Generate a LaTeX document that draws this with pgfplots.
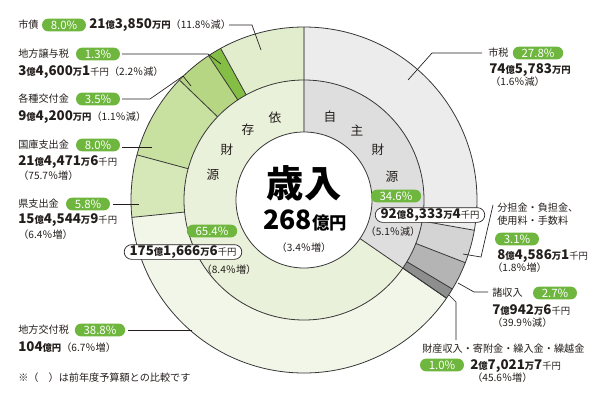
\documentclass[border=0pt]{standalone}
\usepackage{pgfplots}
\pgfplotsset{compat=1.18}
\usepackage{pgfplotstable}
\usepackage{fontspec}
\setmainfont{Noto Sans CJK JP}

% outer ring, clockwise from the top
\pgfplotstableread{
pct
27.8
3.1
2.7
1.0
38.8
5.8
8.0
3.5
1.3
8.0
}\outertab
% inner ring
\pgfplotstableread{
pct
34.6
65.4
}\innertab

\definecolor{oc0}{RGB}{236,236,236}
\definecolor{oc1}{RGB}{212,212,212}
\definecolor{oc2}{RGB}{180,180,180}
\definecolor{oc3}{RGB}{142,142,142}
\definecolor{oc4}{RGB}{242,246,232}
\definecolor{oc5}{RGB}{214,231,184}
\definecolor{oc6}{RGB}{200,224,160}
\definecolor{oc7}{RGB}{183,214,132}
\definecolor{oc8}{RGB}{132,190,68}
\definecolor{oc9}{RGB}{226,237,206}
\definecolor{ic0}{RGB}{222,222,222}
\definecolor{ic1}{RGB}{234,241,218}
\definecolor{badgegreen}{RGB}{110,182,62}
\definecolor{txt}{RGB}{35,30,28}
\definecolor{ringline}{RGB}{55,55,55}

\newcommand\computeangles[2]{%
  \gdef\cumval{0}%
  \pgfplotstablegetrowsof{#1}%
  \pgfmathtruncatemacro\nrws{\pgfplotsretval-1}%
  \foreach \k in {0,...,\nrws}{%
    \pgfplotstablegetelem{\k}{pct}\of#1%
    \let\vval\pgfplotsretval
    \pgfmathsetmacro\angS{90-3.6*\cumval}%
    \pgfmathsetmacro\angC{\cumval+\vval}%
    \pgfmathsetmacro\angE{90-3.6*\angC}%
    \expandafter\xdef\csname #2S\k\endcsname{\angS}%
    \expandafter\xdef\csname #2E\k\endcsname{\angE}%
    \xdef\cumval{\angC}%
  }%
}
\def\Ro{129.75pt}
\def\Rm{90pt}
\def\Ri{51pt}
\newcommand\sector[4]{\edef\tmp{\noexpand\fill[#4] (axis cs:304,200) -- ++(#1:#3) arc[start angle=#1,end angle=#2,radius=#3] -- cycle;}\tmp}
\newcommand\bline[4]{\edef\tmp{\noexpand\draw[#4] (axis cs:304,200) ++(#1:#2) -- ++(#1:#3);}\tmp}

\newcommand\N[1]{{\fontsize{10}{12}\selectfont\bfseries #1}}
\newcommand\U[1]{{\fontsize{7}{8}\selectfont\bfseries #1}}
\newcommand\K[1]{{\fontsize{7}{8}\selectfont #1}}
\newcommand\Pct[1]{{\fontsize{7.6}{8}\selectfont #1}}
\newcommand\T[3]{\node[anchor=west,inner sep=0,text=txt,font=\fontsize{7.6}{9}\selectfont] at (axis cs:#1,#2) {#3};}
\newcommand\B[3]{\node[fill=badgegreen,text=white,rounded corners=4.5pt,inner xsep=6.5pt,inner ysep=0pt,minimum height=9.5pt,font=\fontsize{8.6}{9}\selectfont] at (axis cs:#1,#2) {#3};}
\tikzset{lead/.style={draw=txt,line width=0.5pt}}

\begin{document}
\begin{tikzpicture}
\computeangles{\outertab}{o}
\computeangles{\innertab}{i}
\begin{axis}[x=0.75pt,y=0.75pt,xmin=0,xmax=600,ymin=0,ymax=401,y dir=reverse,hide axis,clip=false]
\path (axis cs:0,0) rectangle (axis cs:600,401);
% outer ring
\pgfplotsinvokeforeach{0,...,9}{\sector{\csname oS#1\endcsname}{\csname oE#1\endcsname}{\Ro}{oc#1}}
% inner ring
\pgfplotsinvokeforeach{0,1}{\sector{\csname iS#1\endcsname}{\csname iE#1\endcsname}{\Rm}{ic#1}}
% segment borders
\pgfplotsinvokeforeach{1,...,9}{\bline{\csname oS#1\endcsname}{\Rm}{39.75pt}{ringline,line width=0.6pt}}
\bline{\csname iS1\endcsname}{\Ri}{78.75pt}{ringline,line width=0.6pt}
\bline{\csname iS0\endcsname}{\Ri}{78.75pt}{draw=gray!80,line width=0.8pt}
\draw[ringline,line width=0.6pt] (axis cs:304,200) circle[radius=\Ro];
\draw[ringline,line width=0.6pt] (axis cs:304,200) circle[radius=\Rm];
\draw[ringline,fill=white,line width=0.6pt] (axis cs:304,200) circle[radius=\Ri];

% centre
\node[text=black,font=\fontsize{28}{30}\selectfont\bfseries] at (axis cs:304,183) {歳入};
\node[text=black] at (axis cs:305,220) {{\fontsize{20}{22}\selectfont\bfseries 268}{\fontsize{13}{14}\selectfont\bfseries 億円}};
\node[text=txt,font=\fontsize{7.6}{8}\selectfont] at (axis cs:304,248) {（3.4％増）};

% ring words
\begin{scope}[every node/.style={text=txt,font=\fontsize{9.5}{10}\selectfont}]
\node at (axis cs:275,118) {依};
\node at (axis cs:248,130) {存};
\node at (axis cs:227,150) {財};
\node at (axis cs:213,175) {源};
\node at (axis cs:330,117) {自};
\node at (axis cs:357,130) {主};
\node at (axis cs:378,150) {財};
\node at (axis cs:392,177) {源};
\end{scope}

% inner ring totals
\B{396}{196}{34.6\%}
\node[draw=txt,fill=white,rounded corners=5.5pt,line width=0.5pt,inner xsep=4pt,inner ysep=0pt,minimum height=11pt,text=txt] at (axis cs:430,215) {\N{92}\U{億}\N{8,333}\U{万}\N{4}\K{千円}};
\node[text=txt,font=\fontsize{7.6}{8}\selectfont] at (axis cs:393,232) {（5.1％減）};
\B{212}{231}{65.4\%}
\node[draw=txt,fill=white,rounded corners=5.5pt,line width=0.5pt,inner xsep=4pt,inner ysep=0pt,minimum height=11pt,text=txt] at (axis cs:183,252) {\N{175}\U{億}\N{1,666}\U{万}\N{6}\K{千円}};
\node[text=txt,font=\fontsize{7.6}{8}\selectfont] at (axis cs:229,270) {（8.4％増）};

% left labels
\T{18}{25}{市債}
\B{64}{25}{8.0\%}
\T{89}{25}{\N{21}\U{億}\N{3,850}\U{万円}\Pct{（11.8％減）}}
\draw[lead] (axis cs:229,25) -- (axis cs:252,25) -- (axis cs:261,50);

\T{18}{54}{地方譲与税}
\B{98}{54}{1.3\%}
\T{18}{72}{\N{3}\U{億}\N{4,600}\U{万}\N{1}\K{千円}\Pct{（2.2％減）}}
\draw[lead] (axis cs:122,54) -- (axis cs:208,54) -- (axis cs:221,64);

\T{18}{99}{各種交付金}
\B{98}{99}{3.5\%}
\T{18}{117}{\N{9}\U{億}\N{4,200}\U{万円}\Pct{（1.1％減）}}
\draw[lead] (axis cs:122,99) -- (axis cs:150,99) -- (axis cs:183,76) -- (axis cs:191,86);

\T{18}{145}{国庫支出金}
\B{98}{145}{8.0\%}
\T{18}{162}{\N{21}\U{億}\N{4,471}\U{万}\N{6}\K{千円}}
\T{18}{176}{\Pct{（75.7％増）}}
\draw[lead] (axis cs:122,147) -- (axis cs:152,147);

\T{18}{204}{県支出金}
\B{88}{204}{5.8\%}
\T{18}{220}{\N{15}\U{億}\N{4,544}\U{万}\N{9}\K{千円}}
\T{18}{235}{\Pct{（6.4％増）}}
\draw[lead] (axis cs:113,204) -- (axis cs:139,204);

\T{18}{330}{地方交付税}
\B{100}{330}{38.8\%}
\T{18}{347}{\N{104}\U{億円}\Pct{（6.7％増）}}
\draw[lead] (axis cs:128,330) -- (axis cs:192,330);

\T{18}{378}{※（　）は前年度予算額との比較です}

% right labels
\T{488}{53}{市税}
\B{538}{53}{27.8\%}
\T{489}{70}{\N{74}\U{億}\N{5,783}\U{万円}}
\T{490}{82}{\Pct{（1.6％減）}}
\draw[lead] (axis cs:482,53) -- (axis cs:432,53) -- (axis cs:408,80);

\T{497}{208}{分担金・負担金、}
\T{497}{221}{使用料・手数料}
\B{517}{239}{3.1\%}
\T{497}{256}{\N{8}\U{億}\N{4,586}\U{万}\N{1}\K{千円}}
\T{492}{268}{\Pct{（1.8％増）}}
\draw[lead] (axis cs:493,205) -- (axis cs:481,257) -- (axis cs:463,254);

\T{492}{293}{諸収入}
\B{555}{293}{2.7\%}
\T{492}{310}{\N{7}\U{億}\N{942}\U{万}\N{6}\K{千円}}
\T{492}{323}{\Pct{（39.9％減）}}
\draw[lead] (axis cs:488,292) -- (axis cs:474,292) -- (axis cs:458,283);

\T{422}{349}{財産収入・寄附金・繰入金・繰越金}
\B{442}{365}{1.0\%}
\T{470}{366}{\N{2}\U{億}\N{7,021}\U{万}\N{7}\K{千円}}
\T{472}{378}{\Pct{（45.6％増）}}
\draw[lead] (axis cs:456,340) -- (axis cs:456,302) -- (axis cs:449,295);
\end{axis}
\end{tikzpicture}
\end{document}
